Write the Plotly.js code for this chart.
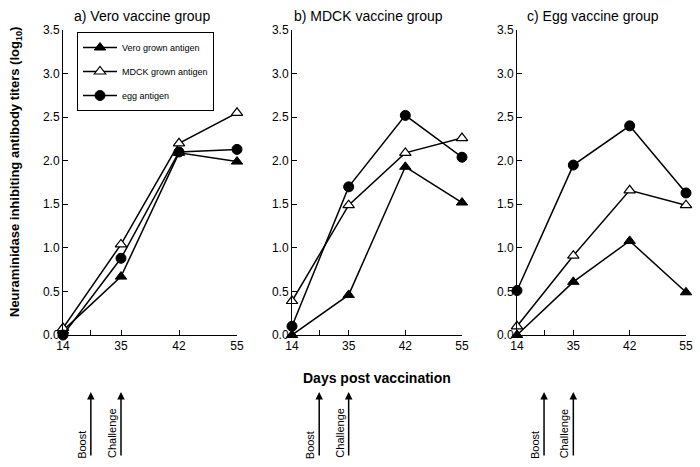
<!DOCTYPE html>
<html>
<head>
<meta charset="utf-8">
<script src="https://cdn.plot.ly/plotly-3.0.1.min.js"></script>
<style>
  body { margin: 0; background: #fff; }
  #chart { width: 700px; height: 467px; }
</style>
</head>
<body>
<div id="chart"></div>
<script>
// days shown on equally spaced positions
const days = ['14', '35', '42', '55'];
const dayPos = [0, 1, 2, 3];

const panelTitles = ['a) Vero vaccine group', 'b) MDCK vaccine group', 'c) Egg vaccine group'];
const seriesNames = ['Vero grown antigen', 'MDCK grown antigen', 'egg antigen'];

// log10 NI titers, per panel: [vero antigen, mdck antigen, egg antigen]
const veroGroup = [
    [0.05, 0.67, 2.09, 1.99],
    [0.08, 1.04, 2.20, 2.55],
    [0.00, 0.88, 2.10, 2.13]
];
const mdckGroup = [
    [0.00, 0.46, 1.93, 1.52],
    [0.39, 1.49, 2.09, 2.26],
    [0.10, 1.70, 2.52, 2.04]
];
const eggGroup = [
    [0.00, 0.61, 1.08, 0.49],
    [0.10, 0.91, 1.66, 1.49],
    [0.51, 1.95, 2.40, 1.63]
];
const groups = [veroGroup, mdckGroup, eggGroup];

const markers = [
    { symbol: 'triangle-up', color: 'black', size: 10, line: { color: 'black', width: 1 } },
    { symbol: 'triangle-up', color: 'white', size: 10, line: { color: 'black', width: 1.2 } },
    { symbol: 'circle', color: 'black', size: 10, line: { color: 'black', width: 1 } }
];

const FONT = 'Liberation Sans, Arial, Helvetica, sans-serif';
const domainsX = [[63 / 700, 237 / 700], [292 / 700, 462 / 700], [517 / 700, 686 / 700]];
const domainY = [1 - 335 / 467, 1 - 30 / 467];
const py = p => 1 - p / 467;

const traces = [];
groups.forEach((grp, g) => {
    const ax = g === 0 ? '' : String(g + 1);
    grp.forEach((vals, s) => {
        traces.push({
            x: dayPos,
            y: vals,
            xaxis: 'x' + ax,
            yaxis: 'y' + ax,
            mode: 'lines+markers',
            name: seriesNames[s],
            legendgroup: 's' + s,
            showlegend: g === 0,
            line: { color: 'black', width: 1.5 },
            marker: markers[s],
            cliponaxis: false
        });
    });
});

const layout = {
    width: 700,
    height: 467,
    margin: { l: 0, r: 0, t: 0, b: 0 },
    paper_bgcolor: 'white',
    plot_bgcolor: 'white',
    font: { family: FONT, color: 'black', size: 12 },
    showlegend: true,
    legend: {
        x: 77 / 700, y: py(32), xanchor: 'left', yanchor: 'top',
        bordercolor: 'black', borderwidth: 1,
        font: { size: 9, family: FONT },
        tracegroupgap: 5,
        itemwidth: 34,
        bgcolor: 'white'
    },
    annotations: []
};

for (let g = 0; g < 3; g++) {
    const ax = g === 0 ? '' : String(g + 1);
    layout['xaxis' + ax] = {
        domain: domainsX[g],
        anchor: 'y' + ax,
        range: [0, 3],
        tickmode: 'array',
        tickvals: [0, 0.48].concat(dayPos.slice(1)),
        ticktext: [days[0], ''].concat(days.slice(1)),
        ticks: 'inside', ticklen: 5, tickwidth: 1, tickcolor: 'black',
        showline: true, linecolor: 'black', linewidth: 1,
        showgrid: false, zeroline: false,
        tickfont: { size: 12 }
    };
    layout['yaxis' + ax] = {
        domain: domainY,
        anchor: 'x' + ax,
        range: [0, 3.5],
        tickvals: [0, 0.5, 1, 1.5, 2, 2.5, 3, 3.5],
        tickformat: '.1f',
        ticks: 'inside', ticklen: 5, tickwidth: 1, tickcolor: 'black',
        showline: true, linecolor: 'black', linewidth: 1,
        showgrid: false, zeroline: false,
        tickfont: { size: 12 }
    };
    const cx = (domainsX[g][0] + domainsX[g][1]) / 2;
    layout.annotations.push({
        text: panelTitles[g], xref: 'paper', yref: 'paper',
        x: cx - 0.012, y: py(16), showarrow: false,
        xanchor: 'center', yanchor: 'middle',
        font: { size: 14 }
    });
    // boost / challenge arrows below each panel
    [[0.48, 'Boost', 445], [1, 'Challenge', 433]].forEach(([xp, label, cy]) => {
        layout.annotations.push({
            text: '', xref: 'x' + ax, yref: 'paper', x: xp, y: py(392),
            showarrow: true, arrowhead: 2, arrowsize: 1, arrowwidth: 1.5,
            arrowcolor: 'black', axref: 'pixel', ayref: 'pixel', ax: 0, ay: 65,
            standoff: 0
        });
        layout.annotations.push({
            text: label, xref: 'x' + ax, yref: 'paper', x: xp, xshift: -9,
            y: py(cy), showarrow: false, textangle: -90,
            xanchor: 'center', yanchor: 'middle', font: { size: 11 }
        });
    });
}

layout.annotations.push({
    text: '<b>Neuraminidase inhibiting antibody titers (log<sub>10</sub>)</b>',
    xref: 'paper', yref: 'paper', x: 15 / 700, y: py(172),
    xanchor: 'center', yanchor: 'middle',
    showarrow: false, textangle: -90, font: { size: 13 }
});
layout.annotations.push({
    text: '<b>Days post vaccination</b>',
    xref: 'paper', yref: 'paper', x: 377 / 700, y: py(378),
    xanchor: 'center', yanchor: 'middle',
    showarrow: false, font: { size: 14 }
});

Plotly.newPlot('chart', traces, layout, { displayModeBar: false, staticPlot: true });
</script>
</body>
</html>
